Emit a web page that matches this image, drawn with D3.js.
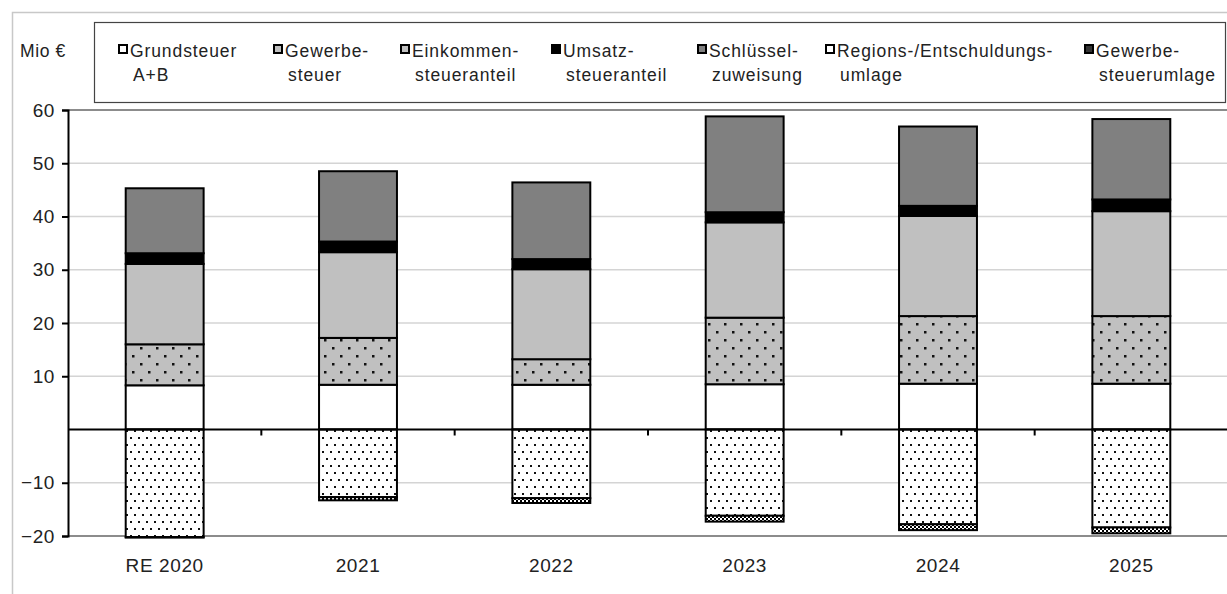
<!DOCTYPE html>
<html>
<head>
<meta charset="utf-8">
<script src="https://cdn.jsdelivr.net/npm/d3@7"></script>
<style>
  body { margin: 0; background: #fff; }
  svg { display: block; font-family: "Liberation Sans", Arial, sans-serif; }
</style>
</head>
<body>
<div id="chart"></div>
<script>
// categories and series values (Mio €)
const categories = ['RE 2020', '2021', '2022', '2023', '2024', '2025'];
const grundsteuer = [8.3, 8.4, 8.4, 8.5, 8.6, 8.6];
const gewerbesteuer = [7.7, 8.8, 4.8, 12.5, 12.7, 12.7];
const einkommensteuer = [15.1, 16.1, 16.9, 17.9, 18.8, 19.7];
const umsatzsteuer = [2.0, 2.0, 1.9, 1.9, 1.9, 2.2];
const schluesselzuweisung = [12.2, 13.2, 14.4, 18.0, 14.9, 15.1];
const regionsumlage = [-20.2, -12.7, -12.9, -16.2, -17.8, -18.4];
const gewerbesteuerumlage = [-0.1, -0.6, -0.9, -1.1, -1.1, -1.1];
const yTicks = [-20, -10, 10, 20, 30, 40, 50, 60];

const seriesInfo = [
  { key: 'grund', values: grundsteuer, label: ['Grundsteuer', 'A+B'], fill: '#ffffff', swatch: '#ffffff' },
  { key: 'gewerbe', values: gewerbesteuer, label: ['Gewerbe-', 'steuer'], fill: 'url(#dotsGray)', swatch: '#c0c0c0' },
  { key: 'eink', values: einkommensteuer, label: ['Einkommen-', 'steueranteil'], fill: '#c0c0c0', swatch: '#c0c0c0' },
  { key: 'ums', values: umsatzsteuer, label: ['Umsatz-', 'steueranteil'], fill: '#000000', swatch: '#000000' },
  { key: 'schl', values: schluesselzuweisung, label: ['Schlüssel-', 'zuweisung'], fill: '#808080', swatch: '#808080' },
  { key: 'regions', values: regionsumlage, label: ['Regions-/Entschuldungs-', 'umlage'], fill: 'url(#dotsWhite)', swatch: '#ffffff' },
  { key: 'gwumlage', values: gewerbesteuerumlage, label: ['Gewerbe-', 'steuerumlage'], fill: 'url(#dense)', swatch: '#333333' }
];

const W = 1227, H = 594;
const plot = { left: 68, right: 1228, top: 110, bottom: 536 };

const svg = d3.select('#chart').append('svg')
  .attr('width', W)
  .attr('height', H);

// patterns
const defs = svg.append('defs');
const pg = defs.append('pattern').attr('id', 'dotsGray')
  .attr('patternUnits', 'userSpaceOnUse').attr('width', 16).attr('height', 16);
pg.append('rect').attr('width', 16).attr('height', 16).attr('fill', '#c0c0c0');
[[4, 3], [12, 11]].forEach(([cx, cy]) => pg.append('rect').attr('x', cx).attr('y', cy).attr('width', 2.5).attr('height', 2.5).attr('fill', '#111'));

const pw = defs.append('pattern').attr('id', 'dotsWhite')
  .attr('patternUnits', 'userSpaceOnUse').attr('width', 8).attr('height', 14);
pw.append('rect').attr('width', 8).attr('height', 14).attr('fill', '#fff');
[[2, 3], [6, 10]].forEach(([cx, cy]) => pw.append('rect').attr('x', cx).attr('y', cy).attr('width', 2).attr('height', 2).attr('fill', '#111'));

const pd = defs.append('pattern').attr('id', 'dense')
  .attr('patternUnits', 'userSpaceOnUse').attr('width', 4).attr('height', 4);
pd.append('rect').attr('width', 4).attr('height', 4).attr('fill', '#fff');
pd.append('rect').attr('x', 0).attr('y', 0).attr('width', 2).attr('height', 2).attr('fill', '#000');
pd.append('rect').attr('x', 2).attr('y', 2).attr('width', 2).attr('height', 2).attr('fill', '#000');

// outer light frame
svg.append('rect')
  .attr('x', 12.5).attr('y', 12.5)
  .attr('width', W).attr('height', H)
  .attr('fill', 'none').attr('stroke', '#c8c8c8').attr('stroke-width', 1.5);

const x = d3.scaleBand()
  .domain(categories)
  .range([plot.left, plot.right])
  .paddingInner(0.597)
  .paddingOuter(0.2985);

const y = d3.scaleLinear()
  .domain([-20, 60])
  .range([plot.bottom, plot.top]);

// gridlines
svg.append('g')
  .selectAll('line')
  .data(yTicks.filter(t => t !== 60 && t !== -20))
  .join('line')
  .attr('x1', plot.left).attr('x2', W)
  .attr('y1', d => y(d)).attr('y2', d => y(d))
  .attr('stroke', '#d4d4d4').attr('stroke-width', 1.5);

// plot frame top/bottom
[60, -20].forEach(v => {
  svg.append('line')
    .attr('x1', plot.left).attr('x2', W)
    .attr('y1', y(v)).attr('y2', y(v))
    .attr('stroke', '#666').attr('stroke-width', 1.5);
});

// stacked bars
const table = categories.map((c, i) => {
  const row = { cat: c };
  seriesInfo.forEach(s => { row[s.key] = s.values[i]; });
  return row;
});

const stack = d3.stack()
  .keys(seriesInfo.map(s => s.key))
  .offset(d3.stackOffsetDiverging);

const stacked = stack(table);

stacked.forEach((layer, li) => {
  svg.append('g')
    .selectAll('rect')
    .data(layer)
    .join('rect')
    .attr('x', d => x(d.data.cat))
    .attr('width', x.bandwidth())
    .attr('y', d => y(Math.max(d[0], d[1])))
    .attr('height', d => Math.abs(y(d[0]) - y(d[1])))
    .attr('fill', seriesInfo[li].fill)
    .attr('stroke', '#000')
    .attr('stroke-width', 2);
});

// zero line with ticks at category boundaries
svg.append('line')
  .attr('x1', plot.left).attr('x2', W)
  .attr('y1', y(0)).attr('y2', y(0))
  .attr('stroke', '#000').attr('stroke-width', 2);

const gap = (x.step() - x.bandwidth()) / 2;
svg.append('g')
  .selectAll('line')
  .data(categories.slice(1))
  .join('line')
  .attr('x1', d => x(d) - gap)
  .attr('x2', d => x(d) - gap)
  .attr('y1', y(0)).attr('y2', y(0) + 6)
  .attr('stroke', '#000').attr('stroke-width', 2);

// y axis
const yAxis = svg.append('g')
  .attr('transform', `translate(${plot.left},0)`)
  .call(d3.axisLeft(y).tickValues(yTicks).tickSize(6).tickPadding(7).tickFormat(d3.format('d')));
yAxis.select('.domain').attr('stroke', '#000').attr('stroke-width', 2);
yAxis.selectAll('.tick line').attr('stroke', '#000').attr('stroke-width', 2);
yAxis.selectAll('.tick text')
  .attr('fill', '#222')
  .style('font-size', '19px')
  .style('letter-spacing', '0.6px');

// x labels
svg.append('g')
  .selectAll('text')
  .data(categories)
  .join('text')
  .attr('x', d => x(d) + x.bandwidth() / 2)
  .attr('y', 572)
  .attr('text-anchor', 'middle')
  .attr('fill', '#222')
  .style('font-size', '19px')
  .style('letter-spacing', '0.6px')
  .text(d => d);

// unit label
svg.append('text')
  .attr('x', 20).attr('y', 57)
  .attr('fill', '#222')
  .style('font-size', '17.5px')
  .style('letter-spacing', '0.6px')
  .text('Mio €');

// legend
const legendBox = { x: 94, y: 22, w: 1131, h: 80 };
svg.append('rect')
  .attr('x', legendBox.x + 0.5).attr('y', legendBox.y + 0.5)
  .attr('width', legendBox.w).attr('height', legendBox.h)
  .attr('fill', '#fff').attr('stroke', '#444').attr('stroke-width', 1.2);

const legendX = [117, 272, 399, 550, 696, 824, 1083];
seriesInfo.forEach((s, i) => {
  const g = svg.append('g').attr('transform', `translate(${legendX[i]},0)`);
  g.append('rect')
    .attr('x', 2).attr('y', 45)
    .attr('width', 8).attr('height', 8)
    .attr('fill', s.swatch)
    .attr('stroke', '#000').attr('stroke-width', 2);
  g.append('text')
    .attr('x', 13).attr('y', 57)
    .attr('fill', '#222')
    .style('font-size', '17.5px')
    .style('letter-spacing', '0.9px')
    .text(s.label[0]);
  g.append('text')
    .attr('x', 16).attr('y', 81)
    .attr('fill', '#222')
    .style('font-size', '17.5px')
    .style('letter-spacing', '0.9px')
    .text(s.label[1]);
});
</script>
</body>
</html>
